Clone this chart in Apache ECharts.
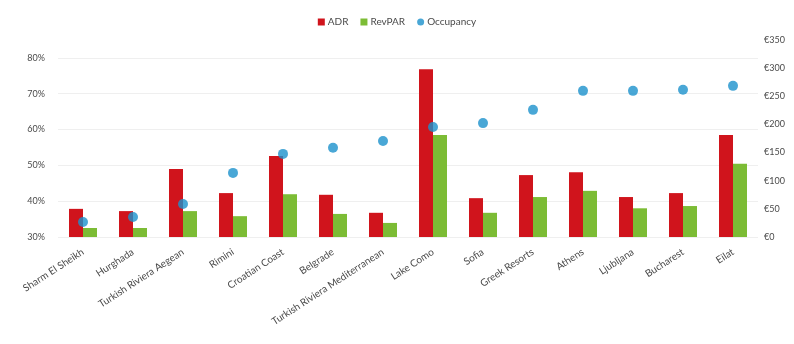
<!DOCTYPE html>
<html>
<head>
<meta charset="utf-8">
<script src="https://cdn.jsdelivr.net/npm/echarts@6/dist/echarts.min.js"></script>
<style>
  html, body { margin: 0; padding: 0; background: #fff; }
  #chart { width: 794px; height: 344px; }
</style>
</head>
<body>
<div id="chart"></div>
<script>
// Destinations along the x axis
const destinations = [
  "Sharm El Sheikh", "Hurghada", "Turkish Riviera Aegean", "Rimini", "Croatian Coast",
  "Belgrade", "Turkish Riviera Mediterranean", "Lake Como", "Sofia", "Greek Resorts",
  "Athens", "Ljubljana", "Bucharest", "Eilat"
];

// ADR and RevPAR in euro (right axis)
const adr = [50, 46, 121, 78, 144, 75, 43, 298, 69, 110, 115, 71, 78, 181];
const revpar = [16, 16, 46, 37, 76, 41, 25, 181, 43, 71, 82, 51, 55, 130];

// Occupancy in percent (left axis)
const occupancy = [34.2, 35.6, 39.2, 47.9, 53.2, 54.9, 56.8, 60.7, 61.8, 65.5, 70.8, 70.8, 71.1, 72.2];

const FONT = "Lato, 'Liberation Sans', sans-serif";
const TEXT = "#4a4a4a";

const chart = echarts.init(document.getElementById("chart"));

chart.setOption({
  animation: false,
  textStyle: { fontFamily: FONT },
  legend: {
    top: 12,
    left: "center",
    itemWidth: 7,
    itemHeight: 7,
    itemGap: 12,
    textStyle: { fontFamily: FONT, fontSize: 10, color: TEXT, padding: [0, 0, 0, -2] },
    data: [
      { name: "ADR", icon: "rect" },
      { name: "RevPAR", icon: "rect" },
      { name: "Occupancy", icon: "circle" },
    ],
  },
  grid: { left: 58, right: 36, top: 40, bottom: 107 },
  xAxis: {
    type: "category",
    data: destinations,
    axisLine: { show: false },
    axisTick: { show: false },
    axisLabel: {
      interval: 0,
      rotate: 33,
      margin: 14,
      fontFamily: FONT,
      fontSize: 10,
      color: TEXT,
    },
  },
  yAxis: [
    {
      type: "value",
      min: 30,
      max: 85,
      interval: 10,
      axisLine: { show: false },
      axisTick: { show: false },
      splitLine: { showMaxLine: false, lineStyle: { color: "#efefef", width: 1 } },
      axisLabel: {
        margin: 13,
        fontFamily: FONT,
        fontSize: 9,
        color: TEXT,
        formatter: (v) => (v % 10 === 0 ? v + "%" : ""),
      },
    },
    {
      type: "value",
      min: 0,
      max: 350,
      interval: 50,
      axisLine: { show: false },
      axisTick: { show: false },
      splitLine: { show: false },
      axisLabel: {
        margin: 6,
        fontFamily: FONT,
        fontSize: 9,
        color: TEXT,
        formatter: (v) => "€" + v,
      },
    },
  ],
  series: [
    {
      name: "ADR",
      type: "bar",
      yAxisIndex: 1,
      data: adr,
      barWidth: 14,
      barGap: "0%",
      itemStyle: { color: "#d0141c" },
    },
    {
      name: "RevPAR",
      type: "bar",
      yAxisIndex: 1,
      data: revpar,
      barWidth: 14,
      barGap: "0%",
      itemStyle: { color: "#7cbc35" },
    },
    {
      name: "Occupancy",
      type: "scatter",
      yAxisIndex: 0,
      data: occupancy,
      symbol: "circle",
      symbolSize: 10,
      itemStyle: { color: "#1b91cc" },
      z: 5,
    },
  ],
});
</script>
</body>
</html>
